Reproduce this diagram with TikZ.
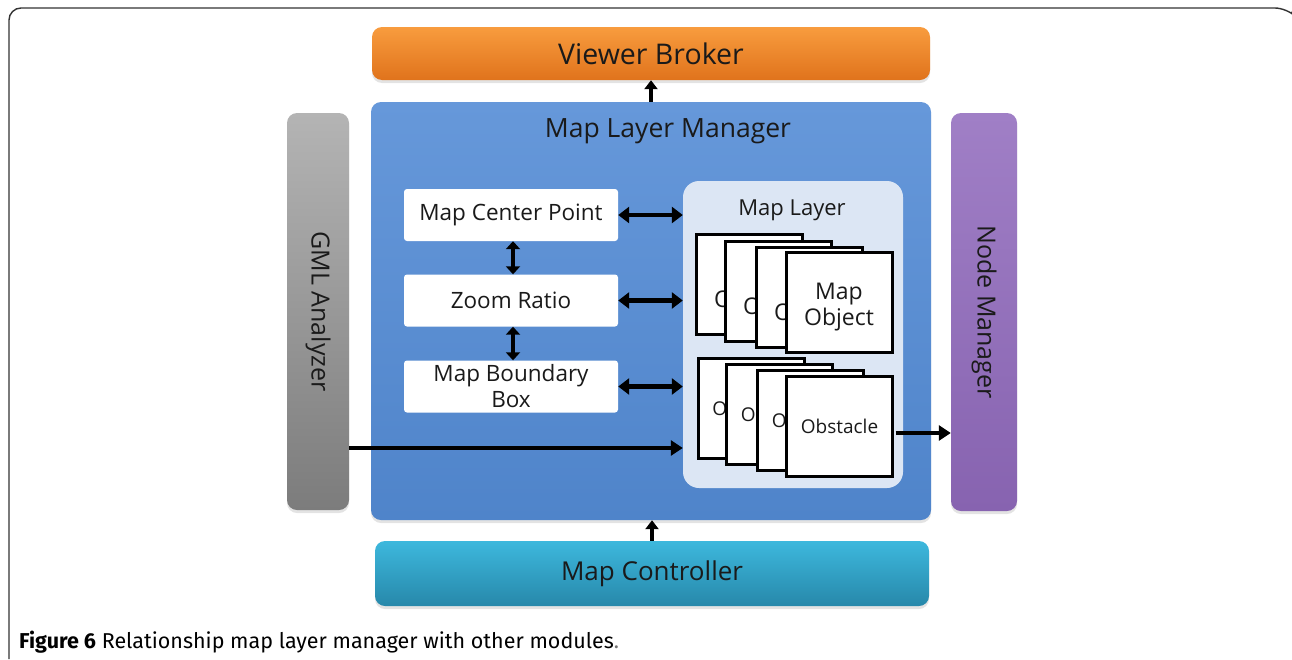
\documentclass[tikz,border=0pt]{standalone}
\usepackage{fontspec}
\setmainfont{Open Sans}
\newfontfamily\capfont{Fira Sans}
\usetikzlibrary{arrows.meta,shadows}

\definecolor{vbtop}{HTML}{F89C3E}
\definecolor{vbbot}{HTML}{E0731C}
\definecolor{mlmtop}{HTML}{6698DA}
\definecolor{mlmbot}{HTML}{4F84CA}
\definecolor{gmltop}{HTML}{B4B4B4}
\definecolor{gmlbot}{HTML}{7C7C7C}
\definecolor{nmtop}{HTML}{A07FC6}
\definecolor{nmbot}{HTML}{8763B0}
\definecolor{mctop}{HTML}{3DB8DD}
\definecolor{mcbot}{HTML}{2788AA}
\definecolor{layerbg}{HTML}{DCE6F4}
\definecolor{txt}{HTML}{1A1A1A}

\tikzset{
  module/.style={rounded corners=10pt, draw=none, text=txt,
    drop shadow={opacity=0.22, shadow xshift=0pt, shadow yshift=-3pt}},
  infobox/.style={fill=white, rounded corners=3pt, minimum width=214pt,
    minimum height=52pt, text=txt, font=\fontsize{22.5}{26}\selectfont,
    align=center, inner sep=0pt},
  objbox/.style={draw=black, line width=3pt, fill=white, minimum width=106pt,
    minimum height=100pt, text=txt, align=center, inner sep=0pt},
  flow/.style={line width=4.5pt, -{Triangle[length=12pt,width=15pt]}},
  link/.style={line width=4.5pt, {Triangle[length=11pt,width=16pt]}-{Triangle[length=11pt,width=16pt]}},
  vlink/.style={line width=4.5pt, {Triangle[length=8pt,width=14pt]}-{Triangle[length=8pt,width=14pt]}},
  uplink/.style={line width=4pt, -{Triangle[length=9pt,width=13pt]}},
}
% a taller first line pushes the two-line label a little lower in its box
\newcommand{\objlabel}{\rule{0pt}{26pt}Map\\Object}

\begin{document}
\begin{tikzpicture}[x=1pt,y=-1pt]
\useasboundingbox (0,0) rectangle (1292,659);

% figure frame
\draw[line width=1.4pt, black!80, rounded corners=12pt]
  (9,659) -- (9,8) -- (1287,8) -- (1291,12);

% outer modules
\node[module, top color=vbtop, bottom color=vbbot, minimum width=558pt,
  minimum height=53pt, font=\fontsize{28.5}{30}\selectfont] (vb) at (651,53.5) {Viewer Broker};
\node[module, top color=mctop, bottom color=mcbot, minimum width=554pt,
  minimum height=65pt, font=\fontsize{26}{28}\selectfont] (mc) at (652,573.5) {Map Controller};
\node[module, top color=gmltop, bottom color=gmlbot, minimum width=62pt,
  minimum height=397pt] (gml) at (318,311.5) {};
\node[rotate=-90, text=txt, font=\fontsize{25}{27}\selectfont] (gmlt) at (gml.center) {GML Analyzer};
\node[module, top color=nmtop, bottom color=nmbot, minimum width=66pt,
  minimum height=398pt] (nm) at (984,312) {};
\node[rotate=-90, text=txt, font=\fontsize{25}{27}\selectfont] (nmt) at (nm.center) {Node Manager};

% map layer manager
\node[module, top color=mlmtop, bottom color=mlmbot, minimum width=560pt,
  minimum height=418pt] (mlm) at (651,311) {};
\node[text=txt, font=\fontsize{26.5}{28}\selectfont] (mlmt) at (668,131) {Map Layer Manager};

% view parameters
\node[infobox] (mcp) at (511,215) {Map Center Point};
\node[infobox] (zr) at (511,300.5) {Zoom Ratio};
\node[infobox] (mbb) at (511,386.5) {Map Boundary\\Box};

% map layer container
\node[fill=layerbg, rounded corners=16pt, minimum width=220pt,
  minimum height=307pt] (ml) at (793,334.5) {};
\node[text=txt, font=\fontsize{22}{24}\selectfont] (mlt) at (792,210) {Map Layer};

% stacked map objects
\begin{scope}[every node/.append style={objbox, font=\fontsize{23}{26}\selectfont}]
  \node (mo1) at (749,284) {\objlabel};
  \node (mo2) at (778,291) {\objlabel};
  \node (mo3) at (809,297) {\objlabel};
  \node (mo4) at (839,302) {\objlabel};
\end{scope}

% stacked obstacles
\begin{scope}[every node/.append style={objbox, font=\fontsize{19}{21}\selectfont}]
  \node (ob1) at (751,408) {Obstacle};
  \node (ob2) at (779.5,414) {Obstacle};
  \node (ob3) at (810.5,420) {Obstacle};
  \node (ob4) at (839.5,426) {Obstacle};
\end{scope}

% connectors
\draw[uplink] (mlm.north -| vb) -- (vb.south);
\draw[uplink] (mc.north) -- (mc.north |- mlm.south);
\draw[link] (mcp.east) -- (mcp.east -| ml.west);
\draw[link] (zr.east) -- (zr.east -| ml.west);
\draw[link] (mbb.east) -- (mbb.east -| ml.west);
\draw[vlink] ([xshift=2pt]mcp.south) -- ([xshift=2pt]zr.north);
\draw[vlink] ([xshift=2pt]zr.south) -- ([xshift=2pt]mbb.north);
\coordinate (gmlout) at (gml.east |- 0,448);
\draw[flow] (gmlout) -- (gmlout -| ml.west);
\coordinate (obout) at ([xshift=1.5pt]ob4.east |- 0,433);
\draw[flow] (obout) -- (obout -| nm.west);

% caption
\node[anchor=base west, inner sep=0pt, font=\capfont\fontsize{21.5}{23}\selectfont] (cap) at (19,648)
  {\textbf{Figure 6} Relationship map layer manager with other modules{\color{black!55}.}};
\end{tikzpicture}
\end{document}
